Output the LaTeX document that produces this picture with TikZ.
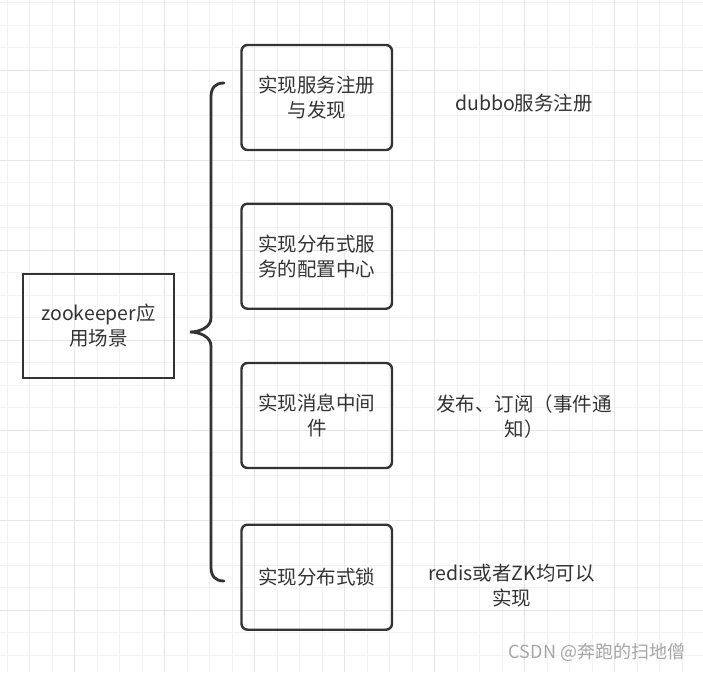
\documentclass[tikz,border=0pt]{standalone}
\usepackage{fontspec}
\setmainfont{Noto Sans CJK SC}
\definecolor{inkgray}{HTML}{333333}
\definecolor{gridminor}{HTML}{F2F2F2}
\definecolor{gridmajor}{HTML}{E5E5E5}
\definecolor{markgray}{HTML}{A6A6A6}
\begin{document}
\begin{tikzpicture}[x=1pt,y=-1pt,
    every node/.style={font=\fontsize{19.5}{25}\selectfont, text=inkgray, align=center, inner sep=0pt},
    rootbox/.style={draw=inkgray, line width=2.4pt, minimum width=151pt, minimum height=104pt},
    usebox/.style={draw=inkgray, line width=2.4pt, rounded corners=6pt, minimum width=150.5pt, minimum height=105pt},
    brace/.style={draw=inkgray, line width=2.8pt, line cap=round}]
        \useasboundingbox[fill=white] (0,0) rectangle (703,672);
        % grid
        \foreach \i in {0,...,31} {
            \draw[gridminor, line width=1pt] ({7.3+22.5*\i},0) -- ({7.3+22.5*\i},672);
            \draw[gridminor, line width=1pt] (0,{2.7+22.5*\i}) -- (703,{2.7+22.5*\i});
        }
        \foreach \i in {0,...,7} {
            \draw[gridmajor, line width=1pt] ({74.7+90*\i},0) -- ({74.7+90*\i},672);
            \draw[gridmajor, line width=1pt] (0,{70.7+90*\i}) -- (703,{70.7+90*\i});
        }
        % boxes
        \node[rootbox] (root) at (98.5,326) {zookeeper应\\用场景};
        \node[usebox] (reg) at (316.75,97.5) {实现服务注册\\与发现};
        \node[usebox] (conf) at (316.75,256.2) {实现分布式服\\务的配置中心};
        \node[usebox] (mq) at (316.75,415.5) {实现消息中间\\件};
        \node[usebox] (lock) at (316.75,577.2) {实现分布式锁};
        % notes
        \node (regnote) at (524,103) {dubbo服务注册};
        \node (mqnote) at (524,416.5) {发布、订阅（事件通\\知）};
        \node (locknote) at (511.5,586) {redis或者ZK均可以\\实现};
        % brace
        \coordinate (btop) at (224,83);
        \coordinate (btip) at (190,332);
        \coordinate (bbot) at (224,581);
        \draw[brace] (btop) .. controls (215,83) and (211,88) .. (211,97) -- (211,318)
            .. controls (211,327) and (200,332) .. (btip)
            .. controls (200,332) and (211,337) .. (211,346) -- (211,567)
            .. controls (211,576) and (215,581) .. (bbot);
        \node[text=markgray, font=\fontsize{18}{20}\selectfont] (mark) at (597,652) {CSDN @奔跑的扫地僧};
    \end{tikzpicture}
\end{document}
